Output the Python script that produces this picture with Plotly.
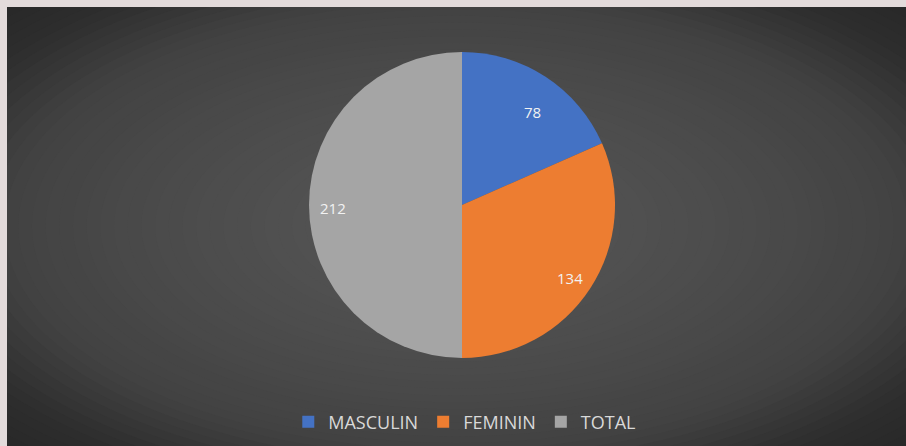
import numpy as np
import plotly.graph_objects as go

labels = ["MASCULIN", "FEMININ", "TOTAL"]
values = [78, 134, 212]
colors = ["#4472c4", "#ed7d31", "#a5a5a5"]

W, H = 906, 446
cx, cy, R = 462, 205, 153  # pie centre / radius in pixels


def px(x):
    return x / W


def py(y):
    return 1 - y / H


fig = go.Figure()
fig.add_trace(
    go.Pie(
        labels=labels,
        values=values,
        sort=False,
        direction="clockwise",
        rotation=0,
        marker=dict(colors=colors, line=dict(width=0)),
        textinfo="none",
        hoverinfo="label+value",
        domain=dict(x=[px(cx - R), px(cx + R)], y=[py(cy + R), py(cy - R)]),
    )
)

# data labels placed at the middle angle of each slice
total = sum(values)
start = 0.0
for v in values:
    mid = np.radians((start + v / 2) / total * 360)
    start += v
    r = 0.84 * R
    fig.add_annotation(
        x=px(cx + r * np.sin(mid)),
        y=py(cy - r * np.cos(mid) + 3),
        xref="paper",
        yref="paper",
        text=str(v),
        showarrow=False,
        font=dict(family="Open Sans", size=15, color="#f2f2f2"),
    )

# radial gradient background made of concentric ellipses
shapes = []
gcx, gcy, hw, hh = 456, 226, 456, 226
stops_d = [0.0, 0.7, 1.0, 1.25, 1.5]
stops_c = [0x58, 0x4a, 0x42, 0x2d, 0x26]
for d in np.linspace(1.5, 0.03, 50):
    c = int(round(np.interp(d, stops_d, stops_c)))
    shapes.append(
        dict(
            type="circle",
            xref="paper",
            yref="paper",
            x0=px(gcx - hw * d),
            x1=px(gcx + hw * d),
            y0=py(gcy + hh * d),
            y1=py(gcy - hh * d),
            fillcolor=f"rgb({c},{c},{c})",
            line=dict(width=0),
            layer="below",
        )
    )
# light frame on the top and left edges
for x0, x1, y0, y1 in [(-10, 7, -10, H + 10), (-10, W + 10, -10, 7)]:
    shapes.append(
        dict(
            type="rect",
            xref="paper",
            yref="paper",
            x0=px(x0),
            x1=px(x1),
            y0=py(y1),
            y1=py(y0),
            fillcolor="#e3dbdb",
            line=dict(width=0),
            layer="below",
        )
    )

fig.update_layout(
    width=W,
    height=H,
    margin=dict(l=0, r=0, t=0, b=0),
    paper_bgcolor="#262626",
    plot_bgcolor="#262626",
    shapes=shapes,
    showlegend=True,
    legend=dict(
        orientation="h",
        x=0.513,
        xanchor="center",
        y=py(422),
        yanchor="middle",
        font=dict(family="Open Sans", size=18, color="#d9d9d9"),
        bgcolor="rgba(0,0,0,0)",
        itemclick=False,
    ),
)

fig.write_html(
    "out.html",
    config={"displayModeBar": False},
    post_script="document.body.style.margin='0';document.body.style.overflow='hidden';",
)
